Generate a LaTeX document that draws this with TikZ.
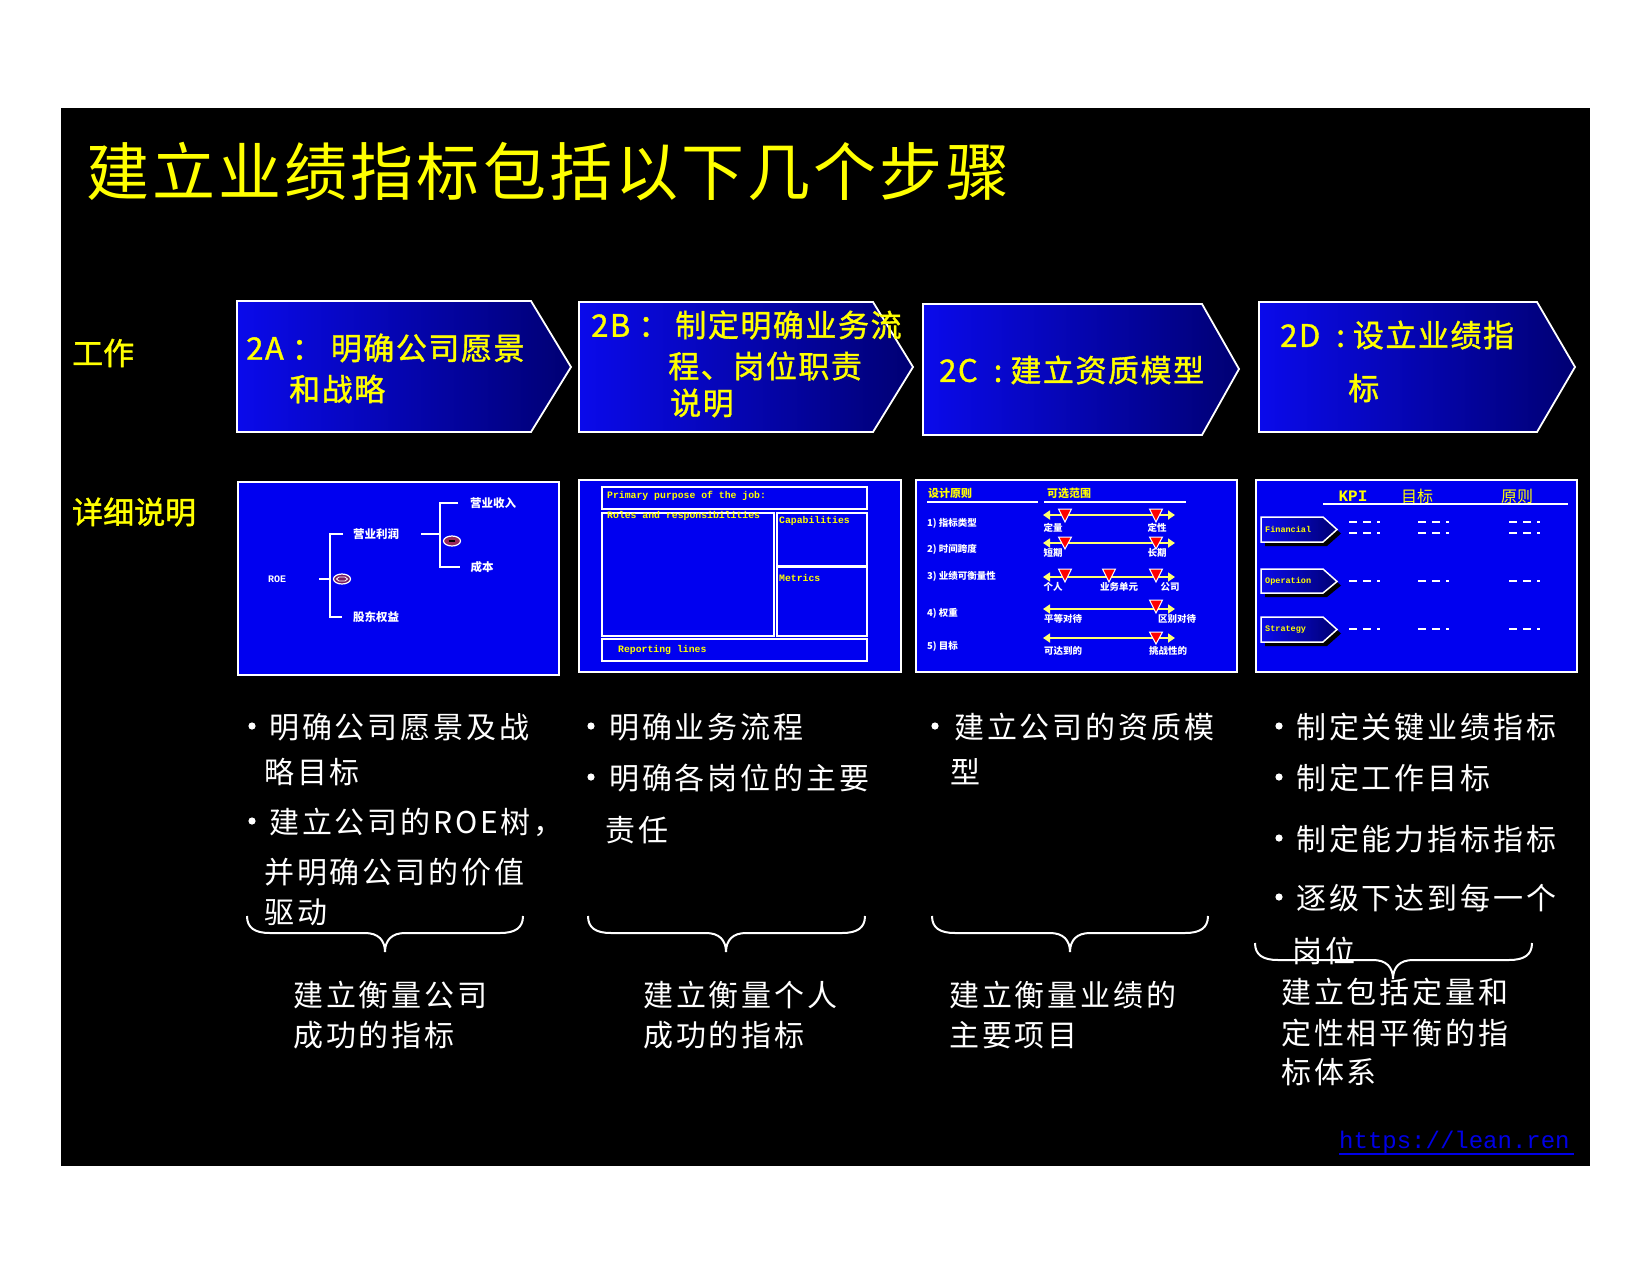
\documentclass[tikz,border=0pt]{standalone}
\usepackage{fontspec}
\setmainfont{Noto Sans CJK SC}
\newfontfamily\monof{Liberation Mono}
\usetikzlibrary{arrows.meta,shapes.geometric}
\definecolor{pblue}{RGB}{0,0,240}
\definecolor{cleft}{RGB}{10,10,235}
\definecolor{cright}{RGB}{0,0,115}
\definecolor{ylw}{RGB}{255,255,0}
\definecolor{linkblue}{RGB}{0,0,230}
\definecolor{ovalA}{RGB}{120,30,100}
\definecolor{ovalB}{RGB}{150,40,90}
\definecolor{arrY}{RGB}{255,255,110}
\newcommand\rtri[3]{\filldraw[redtri] (#1-6.5,#2) -- (#1+6.5,#2) -- (#1,#3) -- cycle;}
\newcommand\mybr[4]{\draw[brc] (#1,#4) .. controls (#1,#4+12) and (#1+8,#4+17) .. (#1+23,#4+17) -- (#2-20,#4+17) .. controls (#2-7,#4+17) and (#2,#4+24) .. (#2,#4+36) .. controls (#2,#4+24) and (#2+7,#4+17) .. (#2+20,#4+17) -- (#3-23,#4+17) .. controls (#3-8,#4+17) and (#3,#4+12) .. (#3,#4);}
\newcommand\tagshp[2]{%
  \fill[black] (1265,#1+4) -- (1327,#1+4) -- (1341,#1+16.5) -- (1327,#2+4) -- (1265,#2+4) -- cycle;
  \path[tag] (1261,#1) -- (1323,#1) -- (1337,#1+12.5) -- (1323,#2) -- (1261,#2) -- cycle;}
\newcommand\bdot[2]{\fill[white] (#1,#2) circle [radius=3.6];}
\begin{document}
\begin{tikzpicture}[x=1pt,y=-1pt,
  title/.style={text=ylw, font=\fontsize{63}{70}\selectfont\addfontfeature{LetterSpace=5}, anchor=west, inner sep=0},
  rowlbl/.style={text=ylw, font=\fontsize{31}{37}\selectfont\addfontfeature{FakeBold=1.2}, anchor=west, inner sep=0},
  chevtxt/.style={text=ylw, font=\fontsize{31}{37}\selectfont\addfontfeature{LetterSpace=5,FakeBold=1.2}, anchor=west, inner sep=0},
  chev/.style={draw=white, line width=1.8pt, left color=cleft, right color=cright},
  panel/.style={draw=white, line width=2pt, fill=pblue},
  body/.style={text=white, font=\fontsize{30}{36}\selectfont\addfontfeature{LetterSpace=9.5}, anchor=west, inner sep=0},
  treetxt/.style={text=white, font=\bfseries\fontsize{11.5}{13}\selectfont, inner sep=0},
  treeln/.style={white, line width=2.5pt},
  mono/.style={text=ylw, font=\monof\bfseries\fontsize{9.8}{11}\selectfont, anchor=west, inner sep=0},
  wbox/.style={draw=white, line width=1.5pt},
  chdr/.style={text=ylw, font=\bfseries\fontsize{11}{13}\selectfont, inner sep=0},
  clbl/.style={text=white, font=\bfseries\fontsize{9.5}{11}\selectfont, inner sep=0},
  rngarr/.style={arrY, line width=2.5pt, arrows={Triangle[length=7pt,width=9pt]-Triangle[length=7pt,width=9pt]}},
  redtri/.style={fill=red, draw=white, line width=1pt},
  dhdr/.style={text=ylw, font=\fontsize{16}{18}\selectfont, inner sep=0},
  dsh/.style={white, line width=2pt, dash pattern=on 8pt off 6pt},
  brc/.style={white, line width=2pt},
  tag/.style={draw=white, line width=1.5pt, left color=cleft, right color=cright},
  tagtxt/.style={text=ylw, font=\monof\bfseries\fontsize{8.5}{10}\selectfont, anchor=west, inner sep=0}
]
\useasboundingbox (0,0) rectangle (1650,1275);
\fill[white] (0,0) rectangle (1650,1275);
\fill[black] (61,108) rectangle (1590,1166);

% title and row labels
\node[title] (title) at (86,172) {建立业绩指标包括以下几个步骤};
\node[rowlbl] (lwork) at (72,353) {工作};
\node[rowlbl] (ldetail) at (72,512) {详细说明};

% chevrons
\path[chev] (237,301) -- (531,301) -- (571,367) -- (531,432) -- (237,432) -- cycle;
\path[chev] (579,302) -- (873,302) -- (913,367) -- (873,432) -- (579,432) -- cycle;
\path[chev] (923,304) -- (1202,304) -- (1239,369) -- (1202,435) -- (923,435) -- cycle;
\path[chev] (1259,302) -- (1537,302) -- (1575,367) -- (1537,432) -- (1259,432) -- cycle;

\node[chevtxt] (a1) at (246,348) {2A\kern8pt：\kern8pt明确公司愿景};
\node[chevtxt] (a2) at (289,389) {和战略};
\node[chevtxt] (b1) at (591,325) {2B\kern8pt：\kern6pt制定明确业务流};
\node[chevtxt] (b2) at (668,366) {程、岗位职责};
\node[chevtxt] (b3) at (670,403) {说明};
\node[chevtxt] (c1) at (939,370) {2C\kern16pt:\kern8pt建立资质模型};
\node[chevtxt] (d1) at (1280,335) {2D\kern16pt:\kern8pt设立业绩指};
\node[chevtxt] (d2) at (1348,388) {标};

% panels
\path[panel] (238,482) rectangle (559,675);
\path[panel] (579,480) rectangle (901,672);
\path[panel] (916,480) rectangle (1237,672);
\path[panel] (1256,480) rectangle (1577,672);

% panel A: ROE tree
\node[treetxt,font=\monof\bfseries\fontsize{10}{12}\selectfont] (roe) at (277,579) {ROE};
\node[treetxt] (ylr) at (376,534) {营业利润};
\node[treetxt] (gdqy) at (376,617) {股东权益};
\node[treetxt] (ysr) at (493,503) {营业收入};
\node[treetxt] (cb) at (482,567) {成本};
\draw[treeln] (319,579) -- (330,579);
\draw[treeln] (343,534) -- (330,534) -- (330,617) -- (342,617);
\draw[treeln] (421,534) -- (440,534);
\draw[treeln] (458,503) -- (440,503) -- (440,567) -- (460,567);
\filldraw[fill=ovalA, draw=white, line width=1.2pt] (342,579) ellipse [x radius=8.5, y radius=5];
\draw[white, line width=0.8pt] (336.5,579) -- (339,577) -- (345,577) -- (347.5,579) -- (345,581) -- (339,581) -- cycle;
\filldraw[fill=ovalB, draw=white, line width=1.2pt] (452,541) ellipse [x radius=8.5, y radius=5];
\draw[black, line width=2pt] (449,541) -- (455,541);

% panel B: job description
\draw[wbox] (602,487) rectangle (867,509);
\draw[wbox] (602,513) rectangle (774,636);
\draw[wbox] (777,513) rectangle (867,566);
\draw[wbox] (777,567) rectangle (867,636);
\draw[wbox] (602,639) rectangle (867,661);
\node[mono] (pp) at (607,496) {Primary purpose of the job:};
\node[mono] (rr) at (607,516) {Roles and responsibilities};
\node[mono] (cap) at (779,521) {Capabilities};
\node[mono] (met) at (779,578) {Metrics};
\node[mono] (rep) at (618,650) {Reporting lines};

% panel C: design principles
\node[chdr] (sjyz) at (950,493) {设计原则};
\node[chdr] (kxfw) at (1069,493) {可选范围};
\draw[white, line width=2pt] (927,502) -- (1038,502);
\draw[white, line width=2pt] (1044,502) -- (1186,502);
\node[clbl,anchor=west] (r1) at (927,523) {1) 指标类型};
\node[clbl,anchor=west] (r2) at (927,549) {2) 时间跨度};
\node[clbl,anchor=west] (r3) at (927,576) {3) 业绩可衡量性};
\node[clbl,anchor=west] (r4) at (927,613) {4) 权重};
\node[clbl,anchor=west] (r5) at (927,646) {5) 目标};
\draw[rngarr] (1043,515) -- (1175,515);
\draw[rngarr] (1043,543) -- (1175,543);
\draw[rngarr] (1043,577) -- (1175,577);
\draw[rngarr] (1043,609) -- (1175,609);
\draw[rngarr] (1043,638) -- (1175,638);
\rtri{1065}{509}{522}\rtri{1156}{509}{522}
\rtri{1065}{537}{549}\rtri{1156}{537}{549}
\rtri{1065}{569}{582}\rtri{1109}{569}{582}\rtri{1156}{569}{582}
\rtri{1156}{600}{613}
\rtri{1156}{632}{644}
\node[clbl] (dl) at (1053,528) {定量};
\node[clbl] (dx) at (1157,528) {定性};
\node[clbl] (dq) at (1053,553) {短期};
\node[clbl] (cq) at (1157,553) {长期};
\node[clbl] (gr) at (1053,587) {个人};
\node[clbl] (ywdy) at (1119,587) {业务单元};
\node[clbl] (gs) at (1170,587) {公司};
\node[clbl] (pddd) at (1063,619) {平等对待};
\node[clbl] (qbdd) at (1177,619) {区别对待};
\node[clbl] (kddd) at (1063,651) {可达到的};
\node[clbl] (tzxd) at (1168,651) {挑战性的};

% panel D: KPI table
\node[dhdr,font=\monof\bfseries\fontsize{16}{18}\selectfont] (kpi) at (1353,496) {KPI};
\node[dhdr] (mb) at (1417,496) {目标};
\node[dhdr] (yz) at (1517,496) {原则};
\draw[white, line width=2pt] (1323,504) -- (1568,504);
\tagshp{517}{542}
\tagshp{569}{593}
\tagshp{617}{642}
\node[tagtxt] (fin) at (1265,529.5) {Financial};
\node[tagtxt] (ope) at (1265,581) {Operation};
\node[tagtxt] (str) at (1265,629.5) {Strategy};
\foreach \yy in {522,533,581,629}{
  \draw[dsh] (1349,\yy) -- (1380,\yy);
  \draw[dsh] (1418,\yy) -- (1449,\yy);
  \draw[dsh] (1509,\yy) -- (1540,\yy);
}

% column A
\bdot{252}{726}
\node[body] (ta1) at (269,727) {明确公司愿景及战};
\node[body] (ta2) at (264,772) {略目标};
\bdot{252}{821}
\node[body] (ta3) at (269,822) {建立公司的ROE树，};
\node[body] (ta4) at (264,872) {并明确公司的价值};
\node[body] (ta5) at (264,912) {驱动};
% column B
\bdot{591}{726}
\node[body] (tb1) at (609,727) {明确业务流程};
\bdot{591}{777}
\node[body] (tb2) at (609,778) {明确各岗位的主要};
\node[body] (tb3) at (605,830) {责任};
% column C
\bdot{935}{726}
\node[body] (tc1) at (954,727) {建立公司的资质模};
\node[body] (tc2) at (950,772) {型};
% column D
\bdot{1279}{726}
\node[body] (td1) at (1296,727) {制定关键业绩指标};
\bdot{1279}{777}
\node[body] (td2) at (1296,778) {制定工作目标};
\bdot{1279}{838}
\node[body] (td3) at (1296,839) {制定能力指标指标};
\bdot{1279}{897}
\node[body] (td4) at (1296,898) {逐级下达到每一个};
\node[body] (td5) at (1292,951) {岗位};

% braces
\mybr{247}{385}{523}{916}
\mybr{588}{726}{865}{916}
\mybr{932}{1070}{1208}{916}
\mybr{1255}{1393}{1532}{943}

% summaries
\node[body] (sa1) at (293,995) {建立衡量公司};
\node[body] (sa2) at (293,1035) {成功的指标};
\node[body] (sb1) at (643,995) {建立衡量个人};
\node[body] (sb2) at (643,1035) {成功的指标};
\node[body] (sc1) at (949,995) {建立衡量业绩的};
\node[body] (sc2) at (949,1035) {主要项目};
\node[body] (sd1) at (1281,992) {建立包括定量和};
\node[body] (sd2) at (1281,1033) {定性相平衡的指};
\node[body] (sd3) at (1281,1072) {标体系};

% link
\node[anchor=west, inner sep=0, text=linkblue, font=\monof\fontsize{24}{28}\selectfont] (link) at (1339,1142) {https://lean.ren};
\draw[linkblue, line width=1.5pt] (1339,1154) -- (1574,1154);
\end{tikzpicture}
\end{document}
